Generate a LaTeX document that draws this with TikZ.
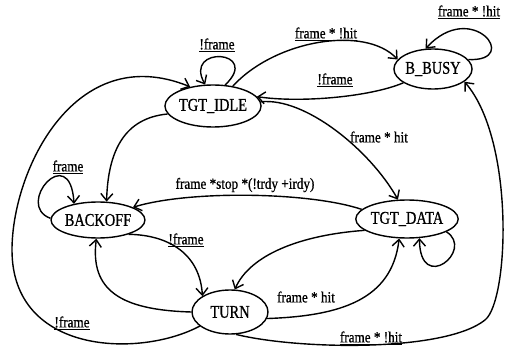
\documentclass[tikz,border=0pt]{standalone}
\usepackage{fontspec}
\setmainfont{Liberation Serif}[FakeStretch=0.8,FakeBold=0.8]
\newfontfamily\lblfont{Liberation Serif}[FakeStretch=0.85,FakeBold=0.8]
\usetikzlibrary{shapes.geometric,arrows.meta}
\begin{document}
\begin{tikzpicture}[x=1pt,y=-1pt,line width=1.4pt,
  state/.style={ellipse,draw,inner sep=0pt,font=\fontsize{18}{20}\selectfont},
  lbl/.style={font=\lblfont\fontsize{15.5}{17}\selectfont,inner sep=1pt},
  arr/.style={-{Straight Barb[length=7pt,width=12pt]}}]
\useasboundingbox (0,0) rectangle (515,350);
% states
\node[state,minimum width=92pt,minimum height=42pt] (idle) at (213,106) {TGT\_IDLE};
\node[state,minimum width=74pt,minimum height=40pt] (busy) at (433,69) {B\_BUSY};
\node[state,minimum width=90pt,minimum height=36pt] (backoff) at (98,220) {BACKOFF};
\node[state,minimum width=76pt,minimum height=44pt] (turn) at (230,312) {TURN};
\node[state,minimum width=94pt,minimum height=38pt] (data) at (407,219) {TGT\_DATA};
% helper coordinates
\coordinate (r1) at (485,320);
\coordinate (w1) at (12,250);
% connectors
\draw[arr] (idle.60) .. controls (262,50) and (183,45) .. (idle.110);
\draw[arr] (idle.45) .. controls (275,40) and (365,25) .. (busy.165);
\draw[arr] (busy.205) .. controls (370,97) and (300,103) .. (idle.12);
\draw[arr] (busy.15) .. controls (522,62) and (472,-2) .. (busy.110);
\draw[arr] (idle.5) .. controls (305,97) and (370,150) .. (data.115);
\draw[arr] (idle.190) .. controls (125,118) and (108,150) .. (backoff.65);
\draw[arr] (backoff.178) .. controls (14,205) and (70,140) .. (backoff.146);
\draw[arr] (data.168) .. controls (310,192) and (190,190) .. (backoff.20);
\draw[arr] (backoff.-25) .. controls (170,235) and (200,255) .. (turn.150);
\draw[arr] (turn.180) .. controls (120,310) and (90,290) .. (backoff.-95);
\draw[arr] (data.195) .. controls (300,235) and (250,255) .. (turn.78);
\draw[arr] (turn.-10) .. controls (340,316) and (392,300) .. (data.-112);
\draw[arr] (data.-18) .. controls (475,250) and (420,295) .. (data.-57);
\draw[arr] (turn.-75) .. controls (300,350) and (445,352) .. (r1)
  .. controls (509,301) and (515,140) .. (busy.-22);
\draw[arr] (turn.205) .. controls (140,358) and (12,355) .. (w1)
  .. controls (12,170) and (75,40) .. (idle.140);
% labels
\node[lbl] (t1) at (217,45) {\underline{!frame}};
\node[lbl] (t2) at (326,34) {\underline{frame * !hit}};
\node[lbl] (t3) at (335,80) {\underline{!frame}};
\node[lbl] (t4) at (469,12) {\underline{frame * !hit}};
\node[lbl] (t5) at (379,137) {frame * hit};
\node[lbl] (t6) at (68,167) {\underline{frame}};
\node[lbl] (t7) at (245,185) {frame *stop *(!trdy +irdy)};
\node[lbl] (t8) at (186,240) {\underline{!frame}};
\node[lbl] (t9) at (306,297) {frame * hit};
\node[lbl] (t10) at (371,338) {\underline{frame * !hit}};
\node[lbl] (t11) at (72,323) {\underline{!frame}};
\end{tikzpicture}
\end{document}
